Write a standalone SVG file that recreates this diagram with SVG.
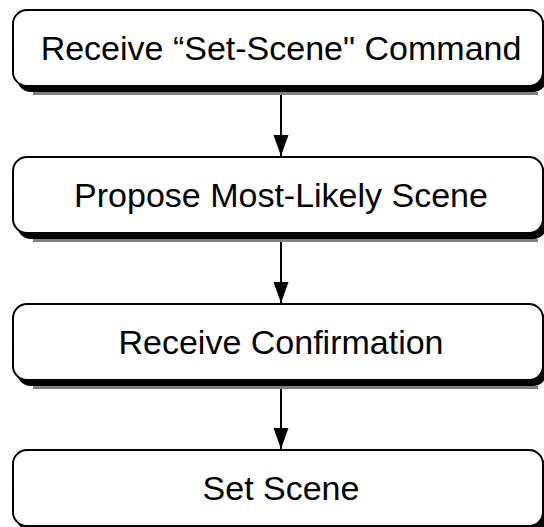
<svg xmlns="http://www.w3.org/2000/svg" width="544" height="527" viewBox="0 0 544 527">
<style>
.box{fill:#fff;stroke:#000;stroke-width:2}
.sh{fill:#000}
.sh2{fill:#808080}
.lbl{font-family:"Liberation Sans",Arial,sans-serif;font-size:34px;fill:#000;text-anchor:middle}
.conn{stroke:#000;stroke-width:2;fill:none}
</style>
<defs>
<marker id="arr" markerUnits="userSpaceOnUse" markerWidth="22" markerHeight="16" refX="21" refY="7.5" orient="auto">
<path d="M0,0 L21,7.5 L0,15 z" fill="#000"/>
</marker>
</defs>
<rect width="544" height="527" fill="#fff"/>
<g id="connectors">
<line class="conn" x1="281" y1="92" x2="281" y2="156" marker-end="url(#arr)"/>
<line class="conn" x1="281" y1="239" x2="281" y2="303" marker-end="url(#arr)"/>
<line class="conn" x1="281" y1="386" x2="281" y2="449" marker-end="url(#arr)"/>
</g>
<g id="node1">
<rect class="sh2" x="33" y="92" width="505" height="3"/>
<rect class="sh" x="17" y="16" width="530" height="76" rx="14"/>
<rect class="box" x="13" y="10" width="530" height="76" rx="14"/>
<text class="lbl" x="281" y="60">Receive “Set-Scene" Command</text>
</g>
<g id="node2">
<rect class="sh2" x="33" y="239" width="505" height="3"/>
<rect class="sh" x="17" y="163" width="530" height="76" rx="14"/>
<rect class="box" x="13" y="157" width="530" height="76" rx="14"/>
<text class="lbl" x="281" y="207">Propose Most-Likely Scene</text>
</g>
<g id="node3">
<rect class="sh2" x="33" y="386" width="505" height="3"/>
<rect class="sh" x="17" y="310" width="530" height="76" rx="14"/>
<rect class="box" x="13" y="304" width="530" height="76" rx="14"/>
<text class="lbl" x="281" y="354">Receive Confirmation</text>
</g>
<g id="node4">
<rect class="sh" x="17" y="456" width="530" height="76" rx="14"/>
<rect class="box" x="13" y="450" width="530" height="76" rx="14"/>
<text class="lbl" x="281" y="500">Set Scene</text>
</g>
</svg>
